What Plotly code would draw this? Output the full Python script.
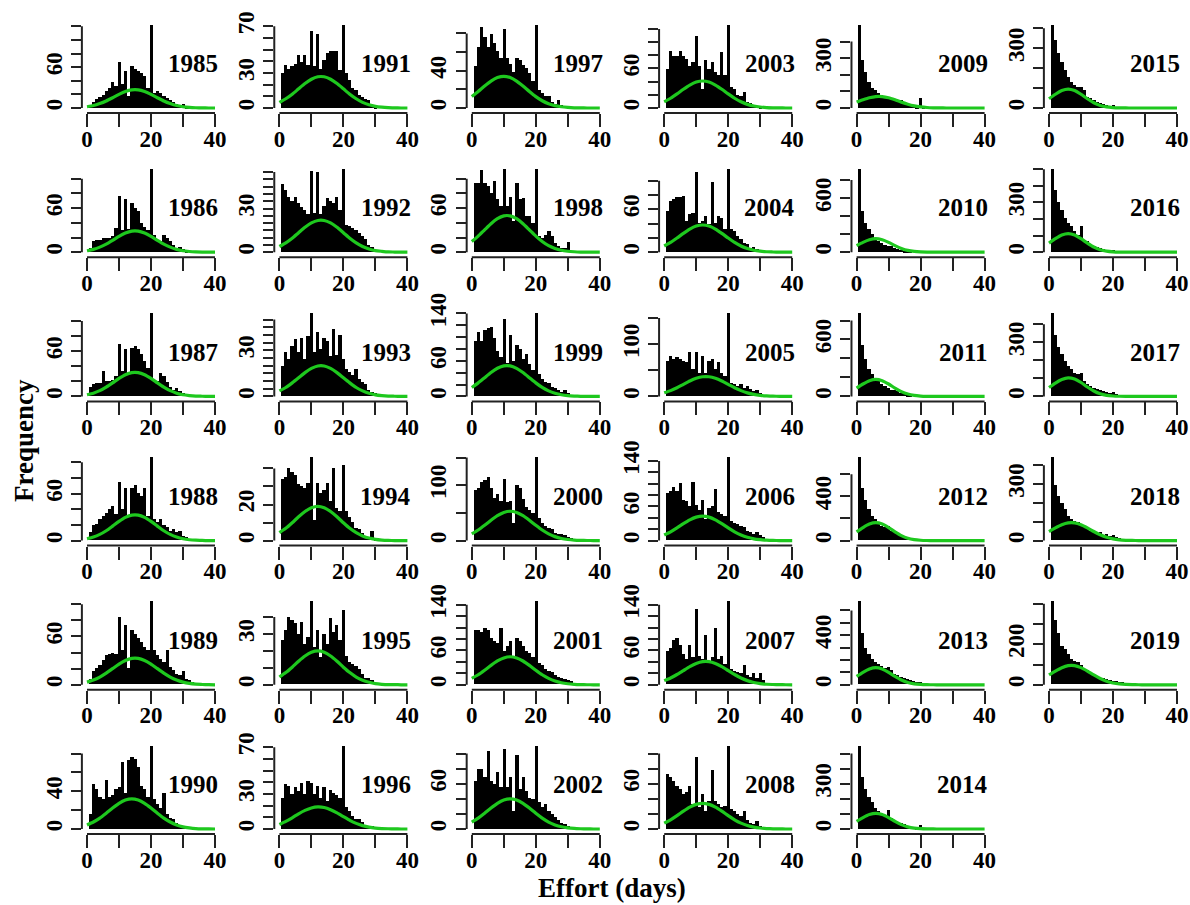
import plotly.graph_objects as go

YEARS = list(range(1985, 2020))
CURVE_X = list(range(0, 41, 2))
X_TICKS = [0, 10, 20, 30, 40]
X_TICK_TEXT = ["0", "", "20", "", "40"]

# ---- histogram counts, bins centred on days 1, 2, 3, ... ----
bars_1985 = [5, 10, 13, 16, 20, 25, 30, 38, 33, 68, 36, 55, 18, 62, 58, 55, 52, 48, 30, 122, 22, 26, 22, 18, 15, 12, 9, 6, 4, 6, 2, 1]
bars_1986 = [6, 16, 17, 17, 20, 20, 20, 22, 33, 77, 31, 72, 32, 67, 60, 56, 40, 35, 31, 113, 24, 17, 15, 24, 20, 15, 10, 6, 7, 4, 2]
bars_1987 = [13, 16, 18, 18, 33, 20, 20, 22, 27, 70, 33, 63, 31, 64, 67, 63, 56, 47, 38, 110, 22, 20, 31, 27, 19, 13, 9, 11, 7, 4, 3]
bars_1988 = [10, 19, 21, 27, 31, 35, 40, 44, 33, 74, 40, 67, 31, 67, 71, 60, 56, 67, 31, 106, 27, 23, 27, 19, 17, 12, 15, 10, 12, 6, 4]
bars_1989 = [7, 16, 20, 24, 30, 37, 38, 39, 38, 83, 42, 73, 20, 67, 62, 58, 52, 46, 42, 103, 42, 36, 32, 28, 42, 22, 18, 13, 11, 16, 7, 5, 3]
bars_1990 = [16, 48, 43, 34, 32, 52, 34, 36, 43, 45, 71, 39, 73, 77, 75, 66, 46, 43, 34, 88, 32, 27, 23, 39, 16, 12, 11, 7, 5, 3]
bars_1991 = [30, 37, 34, 36, 38, 46, 40, 46, 37, 66, 36, 64, 34, 41, 47, 49, 49, 49, 33, 71, 30, 24, 17, 16, 11, 10, 8, 7, 2, 1]
bars_1992 = [47, 43, 38, 35, 38, 34, 31, 29, 26, 56, 27, 55, 26, 32, 37, 35, 34, 38, 29, 57, 19, 18, 17, 15, 13, 11, 9, 5, 4]
bars_1993 = [20, 29, 24, 33, 37, 29, 38, 24, 39, 54, 29, 42, 31, 38, 36, 26, 44, 27, 40, 24, 18, 16, 14, 18, 11, 9, 8, 4, 3, 2]
bars_1994 = [34, 35, 40, 38, 36, 31, 30, 29, 32, 46, 11, 32, 26, 28, 32, 22, 40, 18, 16, 42, 16, 13, 10, 7, 6, 4, 2, 1.5, 5, 1]
bars_1995 = [26, 32, 40, 38, 36, 30, 37, 24, 28, 49, 22, 32, 16, 30, 24, 39, 31, 35, 26, 44, 17, 13, 12, 11, 9, 6, 4, 3.5, 2.5]
bars_1996 = [27, 39, 37, 30, 36, 33, 40, 30, 41, 40, 30, 37, 27, 36, 24, 34, 31, 29, 27, 71, 19, 16, 11, 9, 9, 6, 4, 2, 3]
bars_1997 = [45, 66, 87, 77, 66, 80, 70, 61, 54, 85, 54, 48, 39, 54, 52, 46, 43, 38, 29, 89, 20, 16, 13, 13, 7, 5, 9, 4]
bars_1998 = [95, 95, 112, 95, 90, 81, 97, 72, 63, 113, 63, 76, 42, 95, 72, 74, 49, 49, 40, 113, 22, 20, 24, 29, 22, 13, 8, 6, 6, 14]
bars_1999 = [93, 109, 93, 112, 115, 117, 98, 77, 66, 131, 57, 104, 60, 87, 79, 63, 71, 55, 44, 140, 38, 30, 25, 22, 16, 14, 11, 8, 11, 5]
bars_2000 = [91, 94, 106, 109, 114, 94, 77, 83, 71, 111, 69, 71, 31, 100, 94, 74, 60, 54, 49, 150, 40, 31, 26, 23, 20, 14, 11, 11, 9, 6, 4]
bars_2001 = [95, 95, 92, 98, 95, 81, 75, 72, 98, 58, 67, 75, 47, 81, 75, 67, 58, 55, 47, 145, 38, 33, 27, 24, 21, 16, 13, 11, 10, 7, 6]
bars_2002 = [64, 80, 80, 69, 104, 64, 60, 76, 56, 107, 56, 69, 24, 98, 53, 69, 51, 42, 40, 110, 36, 29, 33, 24, 20, 16, 13, 9, 7, 4]
bars_2003 = [60, 87, 80, 80, 87, 80, 75, 65, 70, 110, 65, 30, 74, 60, 71, 55, 50, 85, 50, 126, 32, 30, 20, 18, 25, 10, 8, 5, 4, 3]
bars_2004 = [58, 72, 75, 77, 78, 79, 44, 53, 55, 112, 41, 44, 51, 39, 98, 41, 51, 48, 32, 116, 33, 30, 23, 18, 13, 11, 6, 8, 4]
bars_2005 = [68, 78, 71, 75, 71, 68, 65, 84, 52, 84, 45, 78, 45, 68, 71, 52, 65, 45, 39, 159, 26, 23, 19, 23, 16, 19, 14, 10, 13, 6]
bars_2006 = [83, 86, 94, 86, 100, 71, 69, 60, 103, 63, 54, 71, 37, 57, 60, 91, 49, 46, 43, 146, 34, 31, 29, 26, 23, 17, 14, 11, 14, 9, 6]
bars_2007 = [58, 64, 78, 81, 69, 53, 44, 69, 47, 132, 50, 44, 86, 41, 47, 98, 44, 50, 36, 145, 27, 24, 21, 20, 33, 16, 13, 19, 11, 19, 7]
bars_2008 = [73, 69, 64, 58, 53, 47, 49, 58, 33, 96, 29, 47, 24, 38, 78, 38, 33, 29, 31, 110, 27, 24, 20, 18, 24, 13, 9, 7, 11, 4]
bars_2009 = [500, 290, 220, 160, 120, 110, 90, 80, 70, 70, 60, 50, 40, 50, 30, 26, 20, 14, 10, 60, 6]
bars_2010 = [920, 460, 330, 255, 200, 160, 125, 105, 86, 75, 68, 50, 38, 30, 19, 15, 8]
bars_2011 = [875, 536, 393, 286, 232, 196, 160, 125, 107, 89, 71, 64, 54, 36, 29, 18, 11]
bars_2012 = [750, 470, 368, 280, 220, 190, 162, 132, 118, 132, 88, 74, 59, 50, 38, 29, 24, 20, 15, 15, 9]
bars_2013 = [670, 415, 297, 245, 205, 179, 166, 147, 132, 139, 113, 87, 74, 60, 53, 42, 34, 26, 21, 16, 11]
bars_2014 = [550, 344, 267, 211, 178, 144, 122, 100, 96, 127, 78, 60, 51, 44, 33, 22, 18, 16, 11, 29, 7]
bars_2015 = [416, 340, 275, 233, 192, 158, 133, 117, 105, 105, 92, 58, 50, 42, 33, 25, 22, 17, 12, 17, 8, 5]
bars_2016 = [500, 376, 306, 256, 206, 176, 156, 126, 106, 160, 76, 66, 52, 40, 32, 26, 20, 16, 12, 16, 8]
bars_2017 = [460, 340, 274, 236, 198, 170, 151, 132, 123, 132, 85, 66, 57, 47, 38, 34, 28, 23, 19, 23, 11]
bars_2018 = [440, 293, 233, 198, 164, 129, 112, 103, 95, 78, 69, 60, 52, 47, 40, 43, 29, 34, 22, 26, 16, 12]
bars_2019 = [410, 317, 253, 189, 173, 149, 125, 117, 109, 93, 77, 69, 53, 45, 37, 32, 29, 24, 21, 18, 16, 13, 10]

# ---- green fitted curves, read at days 0, 2, 4, ..., 40 ----
curve_1985 = [1.9, 3.6, 6.5, 10.3, 15.1, 20.1, 24.3, 26.7, 26.7, 24.3, 20.1, 15.1, 10.3, 6.5, 3.6, 1.9, 0.9, 0.4, 0.1, 0, 0]
curve_1986 = [2.0, 3.9, 6.9, 11.1, 16.2, 21.6, 26.1, 28.7, 28.7, 26.1, 21.6, 16.2, 11.1, 6.9, 3.9, 2.0, 1.0, 0.4, 0.1, 0, 0]
curve_1987 = [2.2, 4.3, 7.6, 12.3, 17.9, 23.8, 28.8, 31.6, 31.6, 28.8, 23.8, 17.9, 12.3, 7.6, 4.3, 2.2, 1.1, 0.4, 0.2, 0, 0]
curve_1988 = [2.3, 4.5, 7.9, 12.6, 18.5, 24.6, 29.7, 32.6, 32.6, 29.7, 24.6, 18.5, 12.6, 7.9, 4.5, 2.3, 1.1, 0.5, 0.2, 0, 0]
curve_1989 = [3.3, 5.9, 9.6, 14.5, 20.0, 25.6, 30.1, 32.7, 32.7, 30.1, 25.6, 20.0, 14.5, 9.6, 5.9, 3.3, 1.7, 0.8, 0.4, 0.1, 0]
curve_1990 = [4.3, 7.4, 11.5, 16.7, 22.2, 27.2, 30.7, 32.0, 30.7, 27.2, 22.2, 16.7, 11.5, 7.4, 4.3, 2.3, 1.2, 0.5, 0.2, 0.1, 0]
curve_1991 = [4.8, 7.9, 11.8, 16.4, 20.9, 24.6, 26.7, 26.7, 24.6, 20.9, 16.4, 11.8, 7.9, 4.8, 2.7, 1.4, 0.7, 0.3, 0.1, 0, 0]
curve_1992 = [3.9, 6.4, 9.6, 13.4, 17.1, 20.1, 21.8, 21.8, 20.1, 17.1, 13.4, 9.6, 6.4, 3.9, 2.2, 1.1, 0.6, 0.2, 0.1, 0, 0]
curve_1993 = [3.6, 5.8, 8.8, 12.1, 15.5, 18.2, 19.8, 19.8, 18.2, 15.5, 12.1, 8.8, 5.8, 3.6, 2.0, 1.0, 0.5, 0.2, 0.1, 0, 0]
curve_1994 = [4.4, 6.8, 9.9, 13.2, 16.1, 18.2, 19.0, 18.2, 16.1, 13.2, 9.9, 6.8, 4.4, 2.6, 1.4, 0.7, 0.3, 0.1, 0, 0, 0]
curve_1995 = [4.6, 7.2, 10.4, 13.9, 17.0, 19.2, 20.0, 19.2, 17.0, 13.9, 10.4, 7.2, 4.6, 2.7, 1.5, 0.7, 0.3, 0.1, 0.1, 0, 0]
curve_1996 = [3.9, 6.5, 9.6, 13.0, 15.9, 18.0, 18.9, 18.4, 16.5, 13.8, 10.6, 7.4, 4.8, 2.9, 1.6, 0.8, 0.4, 0.2, 0.1, 0, 0]
curve_1997 = [12.2, 17.7, 23.6, 28.9, 32.6, 34.0, 32.6, 28.9, 23.6, 17.7, 12.2, 7.8, 4.6, 2.5, 1.3, 0.6, 0.2, 0.1, 0, 0, 0]
curve_1998 = [14.6, 21.9, 30.4, 38.8, 45.6, 49.5, 49.5, 45.6, 38.8, 30.4, 21.9, 14.6, 8.9, 5.1, 2.6, 1.3, 0.6, 0.2, 0.1, 0, 0]
curve_1999 = [15.1, 22.8, 31.6, 40.3, 47.4, 51.5, 51.5, 47.4, 40.3, 31.6, 22.8, 15.1, 9.3, 5.3, 2.7, 1.3, 0.6, 0.2, 0.1, 0, 0]
curve_2000 = [12.2, 19.1, 27.6, 36.7, 45.0, 50.9, 53.0, 50.9, 45.0, 36.7, 27.6, 19.1, 12.2, 7.2, 3.9, 2.0, 0.9, 0.4, 0.2, 0.1, 0]
curve_2001 = [11.3, 17.6, 25.5, 34.0, 41.6, 47.0, 49.0, 47.0, 41.6, 34.0, 25.5, 17.6, 11.3, 6.6, 3.6, 1.8, 0.8, 0.3, 0.1, 0, 0]
curve_2002 = [9.2, 14.4, 20.8, 27.7, 34.0, 38.4, 40.0, 38.4, 34.0, 27.7, 20.8, 14.4, 9.2, 5.4, 2.9, 1.5, 0.7, 0.3, 0.1, 0, 0]
curve_2003 = [9.4, 14.8, 21.4, 28.4, 34.8, 39.4, 41.0, 39.4, 34.8, 28.4, 21.4, 14.8, 9.4, 5.5, 3.0, 1.5, 0.7, 0.3, 0.1, 0, 0]
curve_2004 = [8.7, 13.7, 19.8, 26.3, 32.3, 36.5, 38.0, 36.5, 32.3, 26.3, 19.8, 13.7, 8.7, 5.1, 2.8, 1.4, 0.6, 0.3, 0.1, 0, 0]
curve_2005 = [6.8, 11.1, 16.6, 23.1, 29.5, 34.7, 37.6, 37.6, 34.7, 29.5, 23.1, 16.6, 11.1, 6.8, 3.8, 2.0, 1.0, 0.4, 0.2, 0.1, 0]
curve_2006 = [9.9, 15.5, 22.4, 29.8, 36.5, 41.3, 43.0, 41.3, 36.5, 29.8, 22.4, 15.5, 9.9, 5.8, 3.1, 1.6, 0.7, 0.3, 0.1, 0, 0]
curve_2007 = [7.3, 11.9, 18.0, 24.9, 31.8, 37.4, 40.6, 40.6, 37.4, 31.8, 24.9, 18.0, 11.9, 7.3, 4.1, 2.1, 1.0, 0.5, 0.2, 0.1, 0]
curve_2008 = [7.8, 12.2, 17.7, 23.6, 28.9, 32.6, 34.0, 32.6, 28.9, 23.6, 17.7, 12.2, 7.8, 4.6, 2.5, 1.3, 0.6, 0.2, 0.1, 0, 0]
curve_2009 = [35.4, 49.5, 61.7, 69.0, 69.0, 61.7, 49.5, 35.4, 22.8, 13.0, 6.7, 3.1, 1.3, 0.5, 0.1, 0, 0, 0, 0, 0, 0]
curve_2010 = [73, 109, 138, 150, 138, 109, 73, 42, 20, 8.4, 3.0, 0.9, 0.3, 0, 0, 0, 0, 0, 0, 0, 0]
curve_2011 = [87.7, 130.7, 166.1, 180, 166.1, 130.7, 87.7, 50, 24.3, 10.1, 3.6, 1.1, 0.4, 0, 0, 0, 0, 0, 0, 0, 0]
curve_2012 = [78.9, 117.6, 149.5, 162, 149.5, 117.6, 78.9, 45, 21.9, 9.1, 3.2, 1.0, 0.3, 0, 0, 0, 0, 0, 0, 0, 0]
curve_2013 = [67.7, 100.9, 128.3, 139, 128.3, 100.9, 67.7, 38.6, 18.8, 7.8, 2.8, 0.8, 0.3, 0, 0, 0, 0, 0, 0, 0, 0]
curve_2014 = [50.6, 75.5, 96, 104, 96, 75.5, 50.6, 28.9, 14, 5.8, 2.1, 0.6, 0.2, 0, 0, 0, 0, 0, 0, 0, 0]
curve_2015 = [46.3, 69, 87.7, 95, 87.7, 69, 46.3, 26.4, 12.8, 5.3, 1.9, 0.6, 0.2, 0, 0, 0, 0, 0, 0, 0, 0]
curve_2016 = [54.5, 81.3, 103.4, 112, 103.4, 81.3, 54.5, 31.1, 15.1, 6.3, 2.2, 0.7, 0.2, 0, 0, 0, 0, 0, 0, 0, 0]
curve_2017 = [49, 74, 94, 103, 96, 77, 52, 30, 14.5, 6, 2.2, 0.7, 0.2, 0, 0, 0, 0, 0, 0, 0, 0]
curve_2018 = [48.1, 67.2, 83.8, 93.7, 93.7, 83.8, 67.2, 48.1, 30.9, 17.7, 9.1, 4.2, 1.7, 0.7, 0.2, 0, 0, 0, 0, 0, 0]
curve_2019 = [48.6, 67.9, 84.7, 94.7, 94.7, 84.7, 67.9, 48.6, 31.2, 17.9, 9.2, 4.2, 1.7, 0.7, 0.2, 0, 0, 0, 0, 0, 0]

# ---- y-axis tick specs per year (same order as YEARS) ----
Y_STEP = [20, 20, 20, 20, 20, 20,
          10, 5, 5, 10, 10, 10,
          20, 20, 20, 50, 20, 20,
          20, 20, 50, 20, 20, 20,
          100, 200, 200, 200, 100, 100,
          100, 100, 100, 100, 100]
Y_TOP = [120, 100, 100, 100, 100, 80,
         70, 55, 50, 40, 40, 70,
         80, 100, 140, 150, 140, 100,
         120, 100, 150, 140, 140, 100,
         400, 800, 800, 600, 600, 500,
         400, 500, 400, 400, 400]
Y_LABELS = [[0, 60], [0, 60], [0, 60], [0, 60], [0, 60], [0, 40],
            [0, 30, 70], [0, 30], [0, 30], [0, 20], [0, 30], [0, 30, 70],
            [0, 40], [0, 60], [0, 60, 140], [0, 100], [0, 60, 140], [0, 60],
            [0, 60], [0, 60], [0, 100], [0, 60, 140], [0, 60, 140], [0, 60],
            [0, 300], [0, 600], [0, 600], [0, 400], [0, 400], [0, 300],
            [0, 300], [0, 300], [0, 300], [0, 300], [0, 200]]

BARS = [bars_1985, bars_1986, bars_1987, bars_1988, bars_1989, bars_1990,
        bars_1991, bars_1992, bars_1993, bars_1994, bars_1995, bars_1996,
        bars_1997, bars_1998, bars_1999, bars_2000, bars_2001, bars_2002,
        bars_2003, bars_2004, bars_2005, bars_2006, bars_2007, bars_2008,
        bars_2009, bars_2010, bars_2011, bars_2012, bars_2013, bars_2014,
        bars_2015, bars_2016, bars_2017, bars_2018, bars_2019]
CURVES = [curve_1985, curve_1986, curve_1987, curve_1988, curve_1989, curve_1990,
          curve_1991, curve_1992, curve_1993, curve_1994, curve_1995, curve_1996,
          curve_1997, curve_1998, curve_1999, curve_2000, curve_2001, curve_2002,
          curve_2003, curve_2004, curve_2005, curve_2006, curve_2007, curve_2008,
          curve_2009, curve_2010, curve_2011, curve_2012, curve_2013, curve_2014,
          curve_2015, curve_2016, curve_2017, curve_2018, curve_2019]

# ---- layout geometry (pixels) ----
W, H = 1190, 905
COL_X0, COL_DX, PX_PER_DAY = 87.0, 192.4, 3.2
ROW_BASE, ROW_DY, BAR_PX = 108.0, 144.2, 83.0
XMIN, XMAX = -1.6, 41.6
AXIS_COLOR = "#222222"
GREEN = "#1ec81e"
SERIF = "Liberation Serif"
TICK_FONT = dict(family=SERIF, size=23, color="black", weight="bold")

fig = go.Figure()
layout = {}
shapes = []
annotations = []

for i, year in enumerate(YEARS):
    col, row = divmod(i, 6)
    n = i + 1
    xs = "x" if n == 1 else f"x{n}"
    ys = "y" if n == 1 else f"y{n}"
    xkey = "xaxis" if n == 1 else f"xaxis{n}"
    ykey = "yaxis" if n == 1 else f"yaxis{n}"

    bars = BARS[i]
    days = list(range(1, len(bars) + 1))
    m = max(bars)

    x0px = COL_X0 + COL_DX * col
    left = x0px + XMIN * PX_PER_DAY
    right = x0px + XMAX * PX_PER_DAY
    base = ROW_BASE + ROW_DY * row
    top = base - 1.04 * BAR_PX
    bottom = base + 0.06 * BAR_PX

    fig.add_trace(go.Bar(x=days, y=bars, width=1.0, xaxis=xs, yaxis=ys,
                         marker=dict(color="black", line=dict(width=0)),
                         showlegend=False, hoverinfo="skip"))
    fig.add_trace(go.Scatter(x=CURVE_X, y=CURVES[i], mode="lines", xaxis=xs, yaxis=ys,
                             line=dict(color=GREEN, width=3.2, shape="spline", smoothing=0.6),
                             showlegend=False, hoverinfo="skip"))

    yticks = list(range(0, Y_TOP[i] + 1, Y_STEP[i]))
    ytext = [str(v) if v in Y_LABELS[i] else "" for v in yticks]

    layout[xkey] = dict(domain=[left / W, right / W], range=[XMIN, XMAX], anchor=ys,
                        tickmode="array", tickvals=X_TICKS, ticktext=X_TICK_TEXT,
                        ticks="outside", ticklen=13, tickwidth=2, tickcolor=AXIS_COLOR,
                        ticklabelstandoff=-8, automargin=False,
                        showgrid=False, zeroline=False, showline=False, fixedrange=True,
                        tickfont=TICK_FONT)
    layout[ykey] = dict(domain=[1 - bottom / H, 1 - top / H], range=[-0.06 * m, 1.04 * m],
                        anchor=xs, tickmode="array", tickvals=yticks, ticktext=ytext,
                        ticks="outside", ticklen=10, tickwidth=2, tickcolor=AXIS_COLOR,
                        tickangle=-90, automargin=False, showgrid=False, zeroline=False,
                        showline=False, fixedrange=True, tickfont=TICK_FONT)

    shapes.append(dict(type="line", xref=xs, yref=f"{ys} domain", x0=0, x1=40, y0=0, y1=0,
                       line=dict(color=AXIS_COLOR, width=2)))
    shapes.append(dict(type="line", xref=f"{xs} domain", yref=ys, x0=0, x1=0, y0=0, y1=Y_TOP[i],
                       line=dict(color=AXIS_COLOR, width=2)))
    annotations.append(dict(text=f"<b>{year}</b>", xref=f"{xs} domain", yref=f"{ys} domain",
                            x=1.0, y=0.54, xanchor="right", yanchor="middle", showarrow=False,
                            font=dict(family=SERIF, size=25, color="black")))

annotations.append(dict(text="<b>Frequency</b>", xref="paper", yref="paper",
                        x=24 / W, y=1 - 441 / H, xanchor="center", yanchor="middle",
                        textangle=-90, showarrow=False,
                        font=dict(family=SERIF, size=27, color="black")))
annotations.append(dict(text="<b>Effort (days)</b>", xref="paper", yref="paper",
                        x=612 / W, y=1 - 888 / H, xanchor="center", yanchor="middle",
                        showarrow=False, font=dict(family=SERIF, size=27, color="black")))

fig.update_layout(width=W, height=H, margin=dict(l=0, r=0, t=0, b=0, autoexpand=False),
                  paper_bgcolor="white", plot_bgcolor="white", bargap=0,
                  showlegend=False, shapes=shapes, annotations=annotations, **layout)

fig.write_html("out.html")
